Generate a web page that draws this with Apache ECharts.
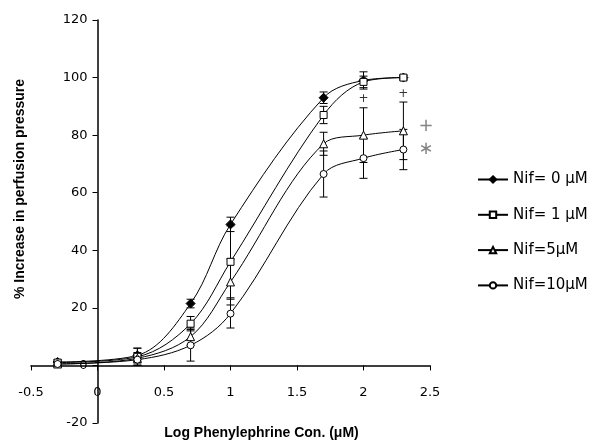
<!DOCTYPE html>
<html>
<head>
<meta charset="utf-8">
<script src="https://cdn.jsdelivr.net/npm/echarts@6/dist/echarts.min.js"></script>
<style>
  html, body { margin: 0; padding: 0; background: #fff; }
  #chart { width: 592px; height: 443px; }
</style>
</head>
<body>
<div id="chart"></div>
<script>
// ---- data (log concentration vs % increase) ----
const logConc = [-0.3, 0.3, 0.7, 1.0, 1.7, 2.0, 2.3];

const nif0    = [1.2, 3.5, 21.5, 49, 93, 99, 100];
const nif0Err = [0.8, 2.5, 1.5, 2.5, 2, 3, 0.8];

const nif1    = [1.0, 3.0, 14.5, 36, 87, 98.5, 100];
const nif1Err = [0.8, 3.0, 2.5, 12.5, 3, 2, 0.8];

const nif5    = [0.5, 2.5, 10, 29, 77, 80, 81.5];
const nif5Err = [0.8, 2.0, 3, 8, 4, 9.5, 10];

const nif10    = [0.5, 2.0, 7, 18, 66.5, 72, 75];
const nif10Err = [0.8, 2.0, 5.5, 5, 8, 7, 7];

const seriesNames = ['Nif= 0 \u03bcM', 'Nif= 1 \u03bcM', 'Nif=5\u03bcM', 'Nif=10\u03bcM'];

// significance marks: [x, y, text]
const smallMarks = [[2.0, 92.5, '+'], [2.3, 94.5, '+']];
const bigMarks   = [[2.47, 83, '+'], [2.47, 75, '\u2217']];

const xTicks = { min: -0.5, max: 2.5, interval: 0.5 };
const yTicks = { min: -20, max: 120, interval: 20 };

const FONT = 'DejaVu Sans';

// layout
const G = { left: 31, top: 20, width: 399, height: 403 };
// shift axes so they cross at the origin
const yAxisOffset = -((0 - xTicks.min) / (xTicks.max - xTicks.min)) * G.width;
const xAxisOffset = -((0 - yTicks.min) / (yTicks.max - yTicks.min)) * G.height;

function pairs(ys) { return logConc.map((x, i) => [x, ys[i]]); }
function errData(ys, es) { return logConc.map((x, i) => [x, ys[i] - es[i], ys[i] + es[i]]); }

function errSeries(ys, es) {
  return {
    type: 'custom',
    z: 1,
    silent: true,
    data: errData(ys, es),
    renderItem: function (params, api) {
      const x = api.value(0);
      const lo = api.coord([x, api.value(1)]);
      const hi = api.coord([x, api.value(2)]);
      const hw = 4;
      const st = { stroke: '#000', lineWidth: 1 };
      return {
        type: 'group',
        children: [
          { type: 'line', shape: { x1: lo[0], y1: lo[1], x2: hi[0], y2: hi[1] }, style: st },
          { type: 'line', shape: { x1: lo[0] - hw, y1: lo[1], x2: lo[0] + hw, y2: lo[1] }, style: st },
          { type: 'line', shape: { x1: hi[0] - hw, y1: hi[1], x2: hi[0] + hw, y2: hi[1] }, style: st }
        ]
      };
    }
  };
}

function lineSeries(name, ys, symbol, size, filled) {
  return {
    name: name,
    type: 'line',
    z: 3,
    smooth: 0.35,
    data: pairs(ys),
    symbol: symbol,
    symbolSize: size,
    showAllSymbol: true,
    lineStyle: { color: '#000', width: 1 },
    itemStyle: { color: filled ? '#000' : '#fff', borderColor: '#000', borderWidth: 1 },
    emphasis: { disabled: true }
  };
}

function markSeries(marks, fontSize, color) {
  return {
    type: 'scatter',
    z: 4,
    silent: true,
    symbolSize: 0,
    data: marks.map(m => ({ value: [m[0], m[1]], txt: m[2] })),
    label: {
      show: true,
      position: 'inside',
      formatter: p => p.data.txt,
      color: color,
      fontSize: fontSize,
      fontFamily: FONT
    }
  };
}

const chart = echarts.init(document.getElementById('chart'), null, { renderer: 'canvas' });
chart.setOption({
  animation: false,
  backgroundColor: '#fff',
  grid: { left: G.left, top: G.top, width: G.width, height: G.height, containLabel: false, outerBoundsMode: 'none' },
  xAxis: {
    type: 'value',
    position: 'bottom',
    offset: xAxisOffset,
    min: xTicks.min, max: xTicks.max, interval: xTicks.interval,
    axisLine: { onZero: false, lineStyle: { color: '#000', width: 1.5 } },
    axisTick: { show: true, inside: false, length: 5, lineStyle: { color: '#000', width: 1 } },
    axisLabel: { margin: 21, color: '#000', fontSize: 13, fontFamily: FONT, showMinLabel: true, showMaxLabel: true },
    splitLine: { show: false },
    name: 'Log Phenylephrine Con. (\u03bcM)',
    nameLocation: 'middle',
    nameGap: 61,
    nameTextStyle: { color: '#000', fontSize: 14, fontWeight: 'bold', fontFamily: 'Liberation Sans', padding: [0, 0, 0, 62] }
  },
  yAxis: {
    type: 'value',
    position: 'left',
    offset: yAxisOffset,
    min: yTicks.min, max: yTicks.max, interval: yTicks.interval,
    axisLine: { onZero: false, lineStyle: { color: '#000', width: 1.5 } },
    axisTick: { show: true, inside: false, length: 5, lineStyle: { color: '#000', width: 1 } },
    axisLabel: { margin: 10, color: '#000', fontSize: 13, fontFamily: FONT, showMinLabel: true, showMaxLabel: true },
    splitLine: { show: false },
    name: '% Increase in perfusion pressure',
    nameLocation: 'middle',
    nameGap: 70,
    nameTextStyle: { color: '#000', fontSize: 14, fontWeight: 'bold', fontFamily: 'Liberation Sans', padding: [0, 0, 0, 65] }
  },
  legend: {
    orient: 'vertical',
    left: 472,
    top: 167,
    itemWidth: 30,
    itemHeight: 8,
    itemGap: 20.3,
    selectedMode: false,
    textStyle: { color: '#000', fontSize: 15, fontFamily: FONT },
    data: seriesNames
  },
  series: [
    errSeries(nif0, nif0Err),
    errSeries(nif1, nif1Err),
    errSeries(nif5, nif5Err),
    errSeries(nif10, nif10Err),
    lineSeries(seriesNames[0], nif0, 'diamond', 9, true),
    lineSeries(seriesNames[1], nif1, 'rect', 7, false),
    lineSeries(seriesNames[2], nif5, 'triangle', 8, false),
    lineSeries(seriesNames[3], nif10, 'circle', 7, false),
    markSeries(smallMarks, 12, '#000'),
    markSeries(bigMarks, 18, '#666')
  ]
});
</script>
</body>
</html>
